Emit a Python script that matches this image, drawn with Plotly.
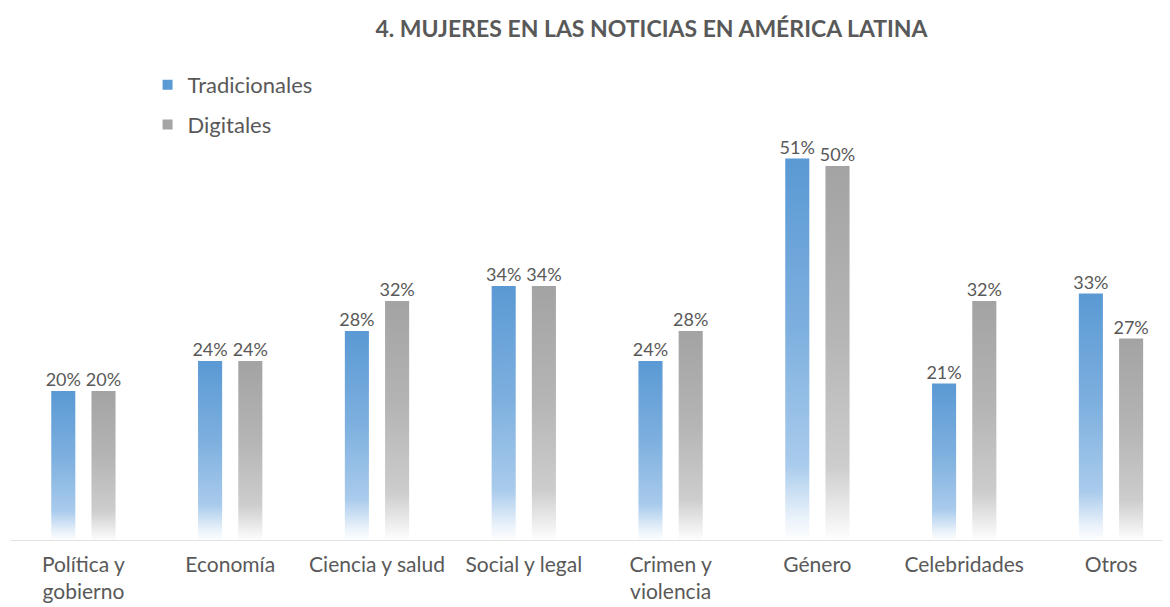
import plotly.graph_objects as go

# data
categories = ["Política y<br>gobierno", "Economía", "Ciencia y salud", "Social y legal",
              "Crimen y<br>violencia", "Género", "Celebridades", "Otros"]
tradicionales = [20, 24, 28, 34, 24, 51, 21, 33]
digitales = [20, 24, 32, 34, 28, 50, 32, 27]

series = [
    ("Tradicionales", tradicionales, -0.137,
     [[0, "rgba(255,255,255,1)"], [0.06, "#eaf2fa"], [0.2, "#a9cbec"],
      [0.55, "#7eb0df"], [1, "#5a99d4"]], "#5b9bd5"),
    ("Digitales", digitales, 0.137,
     [[0, "rgba(255,255,255,1)"], [0.06, "#f0f0f0"], [0.2, "#cdcdcd"],
      [0.55, "#b5b5b5"], [1, "#a3a3a3"]], "#a5a5a5"),
]
half_w = 0.082
txt = "#595959"
font_family = "Lato, 'Noto Sans', sans-serif"

fig = go.Figure()

for name, vals, off, cscale, solid in series:
    for i, v in enumerate(vals):
        x0, x1 = i + off - half_w, i + off + half_w
        fig.add_trace(go.Scatter(
            x=[x0, x1, x1, x0, x0], y=[0, 0, v, v, 0],
            mode="lines", fill="toself", line=dict(width=0),
            fillgradient=dict(type="vertical", colorscale=cscale, start=0, stop=v),
            showlegend=False, hoverinfo="skip",
        ))
    # value labels
    fig.add_trace(go.Scatter(
        x=[i + off for i in range(len(vals))], y=vals,
        mode="text", text=[f"{v}%" for v in vals], textposition="top center",
        textfont=dict(size=18, color=txt, family=font_family),
        showlegend=False, hoverinfo="skip", cliponaxis=False,
    ))
    # legend entry
    fig.add_trace(go.Scatter(
        x=[None], y=[None], mode="markers", name=name, legendgroup=name,
        marker=dict(symbol="square", size=10, color=solid),
    ))

fig.update_layout(
    width=1170, height=607,
    paper_bgcolor="white", plot_bgcolor="white",
    margin=dict(l=2, r=8, t=52, b=74, autoexpand=False),
    font=dict(family=font_family, color=txt, size=22),
    title=dict(text="<b>4. MUJERES EN LAS NOTICIAS EN AMÉRICA LATINA</b>",
               x=0.550, xanchor="center", y=0.965, yanchor="middle",
               font=dict(size=23, color=txt, family=font_family)),
    legend=dict(x=0.1186, y=0.9917, xanchor="left", yanchor="top",
                font=dict(size=22, color=txt), tracegroupgap=8,
                itemwidth=30, bgcolor="rgba(0,0,0,0)"),
    xaxis=dict(range=[-0.5, 7.402], tickvals=list(range(len(categories))),
               ticktext=categories, showgrid=False, zeroline=False,
               showline=False, ticks="", tickfont=dict(size=21, color=txt),
               ticklabelstandoff=9, automargin=False, fixedrange=True),
    yaxis=dict(range=[0, 64.13], visible=False, fixedrange=True),
    shapes=[dict(type="line", xref="paper", yref="y", x0=0, x1=1, y0=0, y1=0,
                 line=dict(color="#d9d9d9", width=1.5))],
)

fig.write_html("out.html")
